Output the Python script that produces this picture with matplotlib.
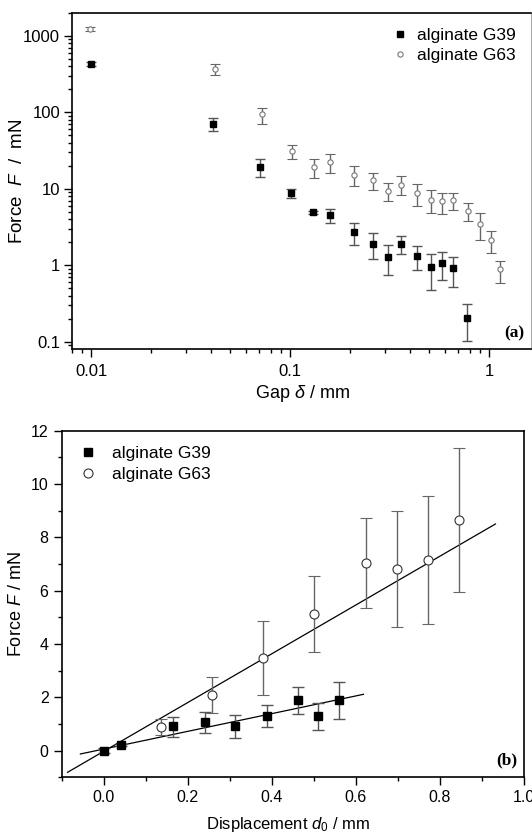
import numpy as np
import matplotlib
matplotlib.use("Agg")
import matplotlib.pyplot as plt
from matplotlib.lines import Line2D
from matplotlib.ticker import LogLocator, NullFormatter, FixedLocator, MultipleLocator, FuncFormatter

plt.rcParams['font.family'] = ['Liberation Sans', 'DejaVu Sans']
plt.rcParams['mathtext.fontset'] = 'custom'
plt.rcParams['mathtext.rm'] = 'Liberation Sans'
plt.rcParams['mathtext.it'] = 'Liberation Sans:italic'

# ---------------- Panel (a) data: Force vs gap (log-log) ----------------
gap_g39 = [0.010, 0.0407, 0.0707, 0.1006, 0.130, 0.159, 0.210, 0.261, 0.309, 0.359,
           0.433, 0.508, 0.579, 0.656, 0.774]
force_g39 = [431, 69.7, 19.2, 8.77, 4.97, 4.54, 2.75, 1.92, 1.30, 1.90,
             1.31, 0.94, 1.08, 0.92, 0.207]
upper_g39 = [455, 83.6, 24.4, 9.9, 5.2, 5.43, 3.57, 2.64, 1.84, 2.39,
             1.77, 1.41, 1.48, 1.28, 0.31]
lower_g39 = [405, 56.5, 14.2, 7.55, 4.75, 3.6, 1.86, 1.21, 0.755, 1.39,
             0.87, 0.48, 0.65, 0.52, 0.103]

gap_g63 = [0.0098, 0.0418, 0.0720, 0.102, 0.131, 0.159, 0.210, 0.261, 0.309, 0.359,
           0.433, 0.508, 0.579, 0.656, 0.781, 0.897, 1.016, 1.13]
force_g63 = [1233, 364, 94.2, 31.3, 19.2, 22.7, 15.4, 13.1, 9.42, 11.3,
             8.77, 7.19, 6.84, 7.12, 5.16, 3.49, 2.12, 0.895]
upper_g63 = [1310, 423, 113, 37.2, 24.4, 28.6, 19.8, 16.0, 11.9, 14.8,
             11.6, 9.6, 8.96, 8.77, 6.5, 4.91, 2.81, 1.15]
lower_g63 = [1150, 307, 70.5, 24.4, 13.8, 16.0, 10.9, 9.8, 6.84, 8.27,
             5.94, 4.82, 4.68, 5.32, 3.75, 2.12, 1.45, 0.59]

# ---------------- Panel (b) data: Force vs displacement ----------------
disp_g39 = [0.0, 0.040, 0.164, 0.240, 0.312, 0.388, 0.462, 0.511, 0.560]
fb_g39 = [0.0, 0.21, 0.925, 1.06, 0.94, 1.31, 1.89, 1.29, 1.89]
fb_up_g39 = [0.1, 0.25, 1.275, 1.46, 1.35, 1.725, 2.40, 1.80, 2.59]
fb_lo_g39 = [-0.1, 0.17, 0.525, 0.65, 0.46, 0.875, 1.375, 0.775, 1.20]

disp_g63 = [0.136, 0.2575, 0.380, 0.5006, 0.623, 0.6986, 0.772, 0.846]
fb_g63 = [0.89, 2.09, 3.475, 5.125, 7.025, 6.825, 7.16, 8.66]
fb_up_g63 = [1.175, 2.75, 4.86, 6.54, 8.74, 9.00, 9.56, 11.34]
fb_lo_g63 = [0.59, 1.425, 2.09, 3.70, 5.34, 4.65, 4.75, 5.95]

# linear fits (slope, intercept, x-range)
fit_g39 = dict(slope=3.322, intercept=0.0594, xr=[-0.0555, 0.618])
fit_g63 = dict(slope=9.148, intercept=-0.025, xr=[-0.0861, 0.932])

series_labels = ['alginate G39', 'alginate G63']

W, H = 532, 834
fig = plt.figure(figsize=(W / 100, H / 100), dpi=100)


def err(v, up, lo):
    v = np.asarray(v); up = np.asarray(up); lo = np.asarray(lo)
    return np.vstack([v - lo, up - v])


# ======================= Panel (a) =======================
ax1 = fig.add_axes([72 / W, 1 - 349 / H, (531 - 72) / W, (349 - 12.7) / H])

ax1.errorbar(gap_g39, force_g39, yerr=err(force_g39, upper_g39, lower_g39),
             fmt='s', ms=3.8, mfc='black', mec='black', ecolor='#555555',
             elinewidth=1.0, capsize=3.5, capthick=1.0, zorder=3)
ax1.errorbar(gap_g63, force_g63, yerr=err(force_g63, upper_g63, lower_g63),
             fmt='o', ms=3.8, mfc='white', mec='#777777', mew=0.8, ecolor='#666666',
             elinewidth=1.0, capsize=3.5, capthick=1.0, zorder=3)

ax1.set_xscale('log')
ax1.set_yscale('log')
ax1.set_xlim(0.008, 1.62)
ax1.set_ylim(0.081, 2000)
ax1.xaxis.set_major_locator(FixedLocator([0.01, 0.1, 1]))
ax1.xaxis.set_major_formatter(FuncFormatter(lambda v, p: {0.01: '0.01', 0.1: '0.1', 1: '1'}.get(round(v, 4), '')))
ax1.xaxis.set_minor_locator(LogLocator(base=10, subs=np.arange(2, 10)))
ax1.xaxis.set_minor_formatter(NullFormatter())
ax1.yaxis.set_major_locator(FixedLocator([0.1, 1, 10, 100, 1000]))
ax1.yaxis.set_major_formatter(FuncFormatter(lambda v, p: {0.1: '0.1', 1: '1', 10: '10', 100: '100', 1000: '1000'}.get(round(v, 4), '')))
ax1.yaxis.set_minor_locator(LogLocator(base=10, subs=np.arange(2, 10)))
ax1.yaxis.set_minor_formatter(NullFormatter())
ax1.tick_params(which='major', direction='out', length=5.5, width=1, labelsize=12)
ax1.tick_params(axis='x', which='major', pad=5)
ax1.tick_params(axis='y', which='major', pad=3)
ax1.tick_params(which='minor', direction='out', length=3, width=1)
for s in ['left', 'bottom', 'top']:
    ax1.spines[s].set_linewidth(1.2)
ax1.spines['right'].set_color('#aaaaaa')
ax1.set_xlabel(r'Gap $\delta$ / mm', fontsize=13)
ax1.set_ylabel(r'Force  $F$  /  mN', fontsize=13.5)
ax1.xaxis.set_label_coords((302 - 72) / 459, (349 - 393) / 336.3)
ax1.yaxis.set_label_coords((18 - 72) / 459, 0.5)
ax1.yaxis.label.set_va('center')
ax1.xaxis.label.set_va('center')

h1 = [Line2D([], [], ls='none', marker='s', ms=3.8, mfc='black', mec='black'),
      Line2D([], [], ls='none', marker='o', ms=3.8, mfc='white', mec='#777777', mew=0.8)]
ax1.legend(h1, series_labels, loc='upper right', frameon=False,
           fontsize=12.5, handletextpad=0.5, borderaxespad=0.45, labelspacing=0.3,
           handlelength=1.0)
ax1.text(0.985, 0.045, '(a)', transform=ax1.transAxes, ha='right', va='center',
         fontsize=12.5, fontweight='bold', family='Liberation Serif')

# ======================= Panel (b) =======================
ax2 = fig.add_axes([61.7 / W, 1 - 777.3 / H, (524 - 61.7) / W, (777.3 - 430.7) / H])

ax2.errorbar(disp_g63, fb_g63, yerr=err(fb_g63, fb_up_g63, fb_lo_g63),
             fmt='o', ms=6.5, mfc='white', mec='#333333', mew=0.8, ecolor='#666666',
             elinewidth=1.0, capsize=4, capthick=1.0, zorder=3)
ax2.errorbar(disp_g39, fb_g39, yerr=err(fb_g39, fb_up_g39, fb_lo_g39),
             fmt='s', ms=6, mfc='black', mec='black', ecolor='#555555',
             elinewidth=1.0, capsize=4, capthick=1.0, zorder=4)

for f in (fit_g39, fit_g63):
    xs = np.array(f['xr'])
    ax2.plot(xs, f['slope'] * xs + f['intercept'], color='black', lw=0.9, zorder=2)

ax2.set_xlim(-0.1, 1.0)
ax2.set_ylim(-1, 12)
ax2.xaxis.set_major_locator(MultipleLocator(0.2))
ax2.xaxis.set_minor_locator(MultipleLocator(0.1))
ax2.xaxis.set_major_formatter(FuncFormatter(lambda v, p: f'{v:.1f}'))
ax2.yaxis.set_major_locator(MultipleLocator(2))
ax2.yaxis.set_minor_locator(MultipleLocator(1))
ax2.tick_params(which='major', direction='out', length=5.5, width=1, labelsize=11.5, pad=4)
ax2.tick_params(which='minor', direction='out', length=3, width=1)
for s in ax2.spines.values():
    s.set_linewidth(1.2)
ax2.set_xlabel(r'Displacement $d_0$ / mm', fontsize=12)
ax2.set_ylabel(r'Force $F$ / mN', fontsize=13)
ax2.xaxis.set_label_coords((288 - 61.7) / 462.3, (777.3 - 824) / 346.6)
ax2.yaxis.set_label_coords((17 - 61.7) / 462.3, 0.5)
ax2.yaxis.label.set_va('center')
ax2.xaxis.label.set_va('center')

h2 = [Line2D([], [], ls='none', marker='s', ms=6, mfc='black', mec='black'),
      Line2D([], [], ls='none', marker='o', ms=6.5, mfc='white', mec='#333333', mew=0.8)]
ax2.legend(h2, series_labels, loc='upper left', frameon=False, fontsize=12.5,
           handletextpad=0.8, borderaxespad=0.5, labelspacing=0.3, handlelength=1.2)
ax2.text(0.985, 0.05, '(b)', transform=ax2.transAxes, ha='right', va='center',
         fontsize=12.5, fontweight='bold', family='Liberation Serif')

fig.savefig('out.png', dpi=100)
